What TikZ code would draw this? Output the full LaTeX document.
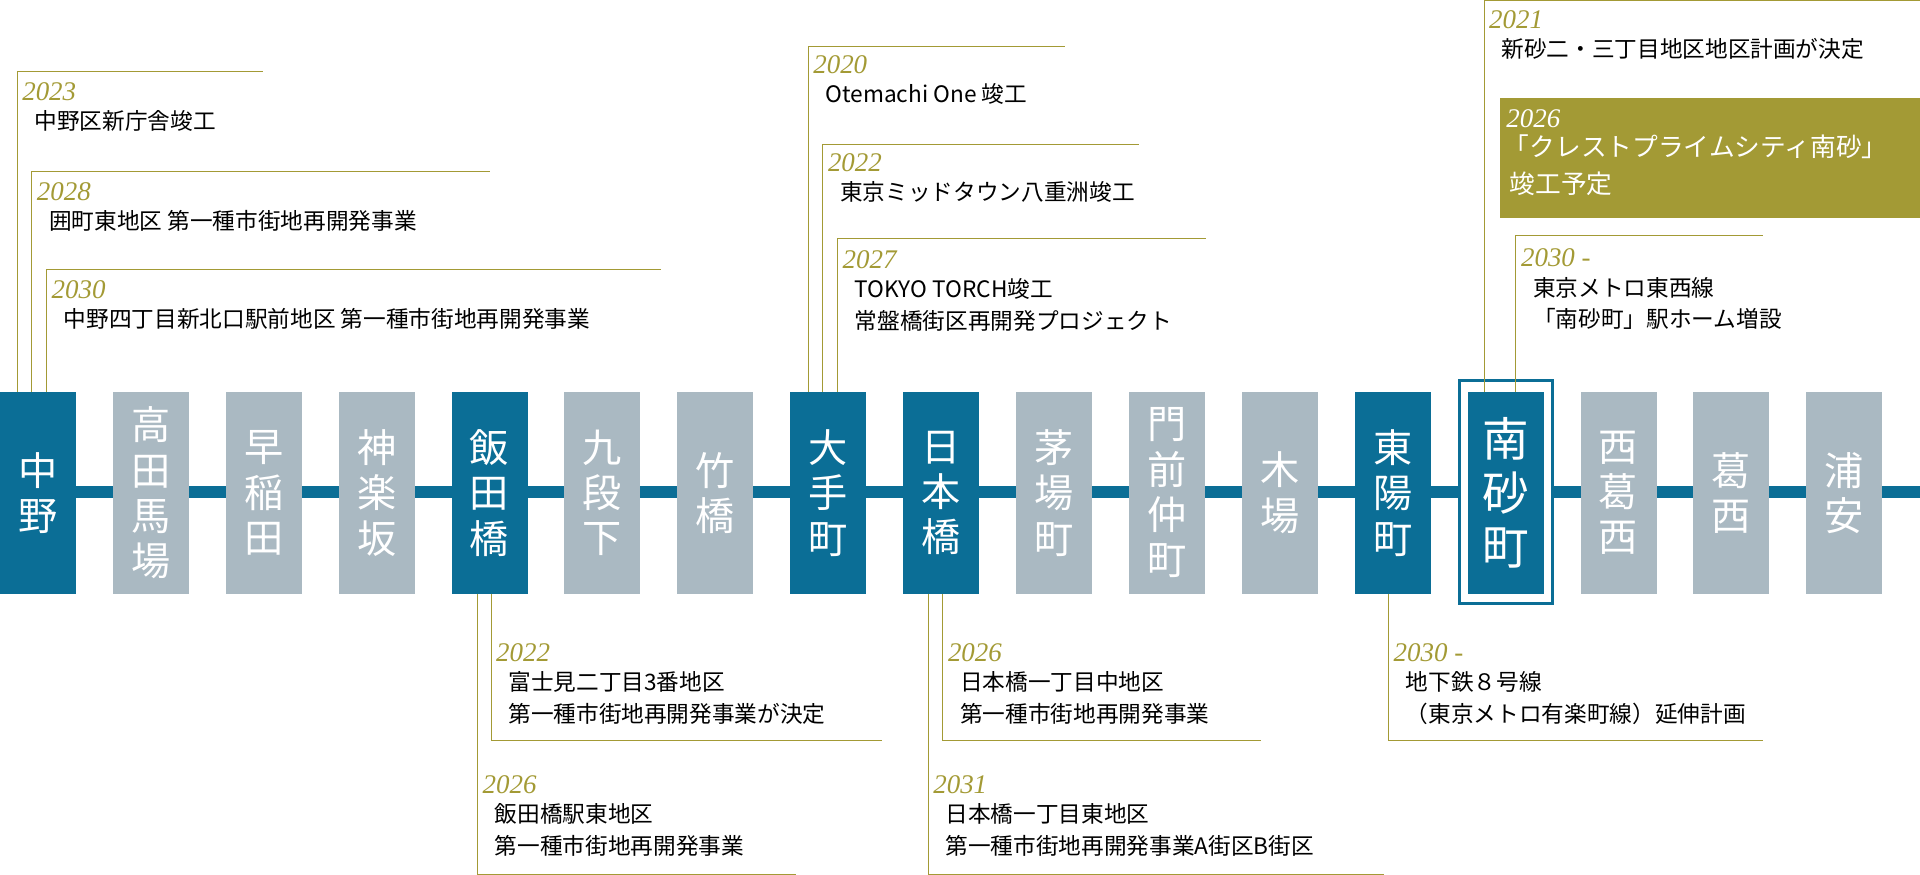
\documentclass[tikz,border=0pt]{standalone}
\usepackage{fontspec}
\setmainfont{Liberation Serif}
\newfontfamily\jp{Noto Sans CJK JP}[Scale=1]
\definecolor{teal}{HTML}{0B6E96}
\definecolor{grayb}{HTML}{AAB9C2}
\definecolor{gold}{HTML}{A39A35}
\begin{document}
\begin{tikzpicture}[x=1pt,y=-1pt,
  st/.style={minimum width=62pt,minimum height=165pt,inner sep=0pt,text=white,font=\jp\fontsize{32}{37}\selectfont,align=center},
  yr/.style={anchor=base west,text=gold,font=\itshape\fontsize{22}{22}\selectfont,inner sep=0pt},
  tx/.style={anchor=base west,font=\jp\fontsize{18.5}{26}\selectfont,inner sep=0pt,align=left},
  gl/.style={draw=gold,line width=0.8pt}]
\useasboundingbox (0,0) rectangle (1568,714);
\coordinate (L) at (0,402); \coordinate (R) at (1568,402);
\draw[teal,line width=10pt] (L) -- (R);
\foreach \i/\n/\c in {0/中\\野/teal,1/高\\田\\馬\\場/grayb,2/早\\稲\\田/grayb,3/神\\楽\\坂/grayb,4/飯\\田\\橋/teal,5/九\\段\\下/grayb,6/竹\\橋/grayb,7/大\\手\\町/teal,8/日\\本\\橋/teal,9/茅\\場\\町/grayb,10/門\\前\\仲\\町/grayb,11/木\\場/grayb,12/東\\陽\\町/teal,14/西\\葛\\西/grayb,15/葛\\西/grayb,16/浦\\安/grayb}
  \node[st,fill=\c] (s\i) at ({31+92.2*\i},402.5) {\n};
\coordinate (hA) at ({31+92.2*13-38},311); \coordinate (hB) at ({31+92.2*13+38},493);
\draw[teal,line width=2.5pt,fill=white] (hA) rectangle (hB);
\node[st,fill=teal,font=\jp\fontsize{38}{44}\selectfont] (s13) at ({31+92.2*13},402.5) {南\\砂\\町};
\newcommand\antop[6]{%
  \coordinate (a#1) at (#1,320); \coordinate (b#1) at (#1,#2); \coordinate (c#1) at (#3,#2);
  \draw[gl] (a#1) -- (b#1) -- (c#1);
  \node[yr] (y#1) at (#1+4,#4) {#5};
  \node[tx,anchor=north west] (t#1) at (#1+14,#4+8) {#6};}
\newcommand\anbot[6]{%
  \coordinate (a#1) at (#1,485); \coordinate (b#1) at (#1,#2); \coordinate (c#1) at (#3,#2);
  \draw[gl] (a#1) -- (b#1) -- (c#1);
  \node[yr] (y#1) at (#1+4,#4) {#5};
  \node[tx,anchor=north west] (t#1) at (#1+14,#4+8) {#6};}
\antop{14}{58}{215}{82}{2023}{中野区新庁舎竣工}
\antop{26}{140}{400}{164}{2028}{囲町東地区 第一種市街地再開発事業}
\antop{38}{220}{540}{244}{2030}{中野四丁目新北口駅前地区 第一種市街地再開発事業}
\antop{660}{38}{870}{60}{2020}{Otemachi One 竣工}
\antop{672}{118}{930}{140}{2022}{東京ミッドタウン八重洲竣工}
\antop{684}{195}{985}{219}{2027}{TOKYO TORCH竣工\\常盤橋街区再開発プロジェクト}
\antop{1212}{0}{1568}{23}{2021}{新砂二・三丁目地区地区計画が決定}
\antop{1238}{192}{1440}{218}{2030 -}{東京メトロ東西線\\「南砂町」駅ホーム増設}
\anbot{401}{605}{720}{540}{2022}{富士見二丁目3番地区\\第一種市街地再開発事業が決定}
\anbot{390}{714}{650}{648}{2026}{飯田橋駅東地区\\第一種市街地再開発事業}
\anbot{770}{605}{1030}{540}{2026}{日本橋一丁目中地区\\第一種市街地再開発事業}
\anbot{758}{714}{1130}{648}{2031}{日本橋一丁目東地区\\第一種市街地再開発事業A街区B街区}
\anbot{1134}{605}{1440}{540}{2030 -}{地下鉄８号線\\（東京メトロ有楽町線）延伸計画}
\node[fill=gold,minimum width=343pt,minimum height=98pt,anchor=north west,inner sep=0pt] (box) at (1225,80) {};
\node[yr,text=white] (by) at (1230,104) {2026};
\node[tx,text=white,anchor=north west,font=\jp\fontsize{21}{30}\selectfont] (bt) at (1228,110) {「クレストプライムシティ南砂」\\\ 竣工予定};
\end{tikzpicture}
\end{document}
